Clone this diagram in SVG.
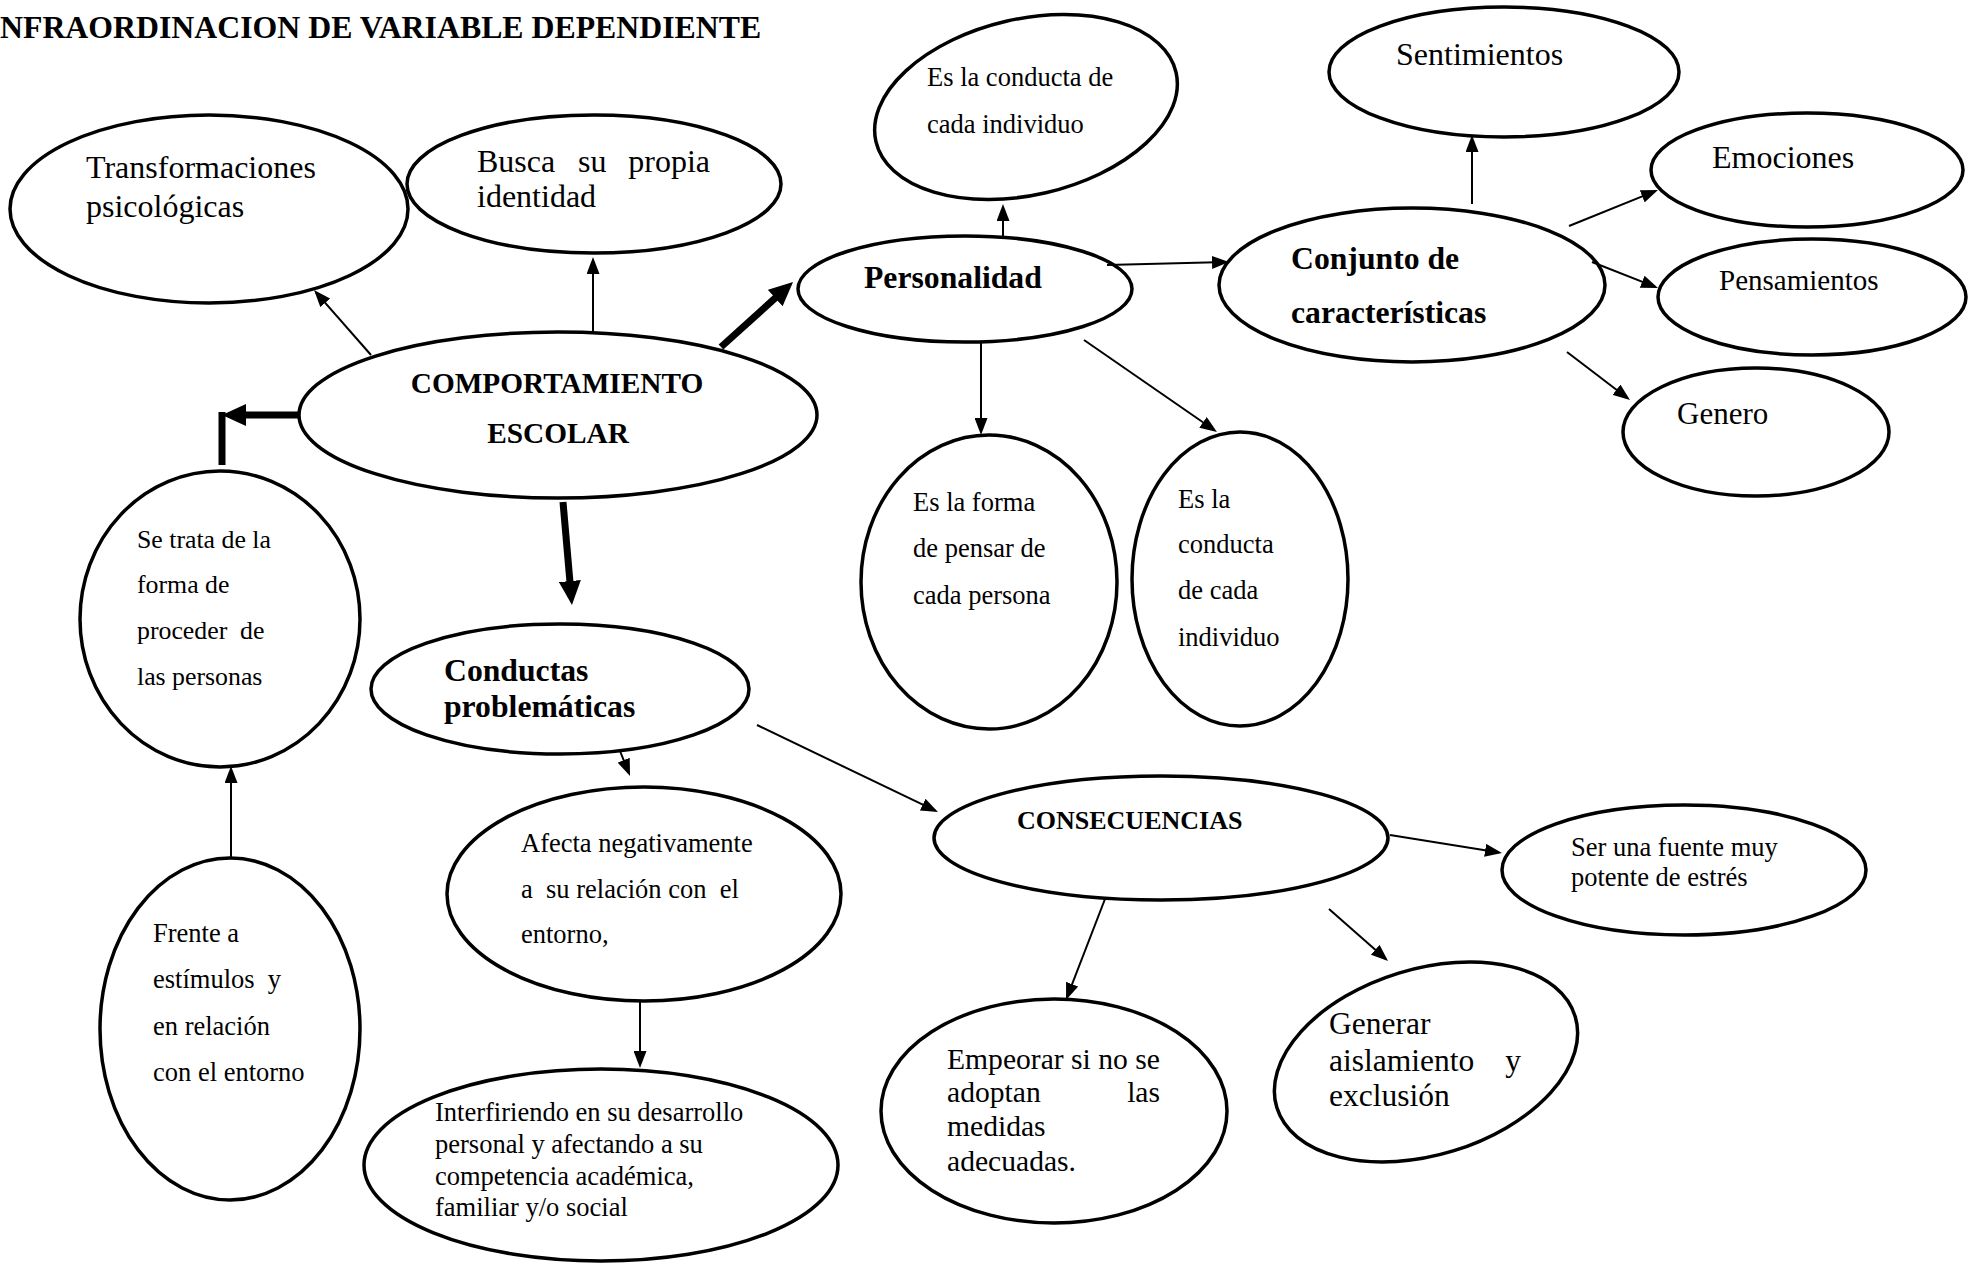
<svg xmlns="http://www.w3.org/2000/svg" width="1972" height="1264" viewBox="0 0 1972 1264">
<style>
.n ellipse{fill:#fff;stroke:#000;stroke-width:3.5}
.c line{stroke:#000;stroke-width:2;fill:none}
.c line.t{stroke-width:7}
text{font-family:"Liberation Serif","Times New Roman",serif;fill:#000}
.b{font-weight:bold}
.s{font-size:26.5px}
.m{font-size:32px}
</style>
<defs>
<marker id="ah" markerUnits="userSpaceOnUse" viewBox="0 0 17 13" refX="14" refY="6.5" markerWidth="17" markerHeight="13" orient="auto"><path d="M0,0 L17,6.5 L0,13 z" fill="#000"/></marker>
<marker id="ahb" markerUnits="userSpaceOnUse" viewBox="0 0 24 22" refX="14" refY="11" markerWidth="24" markerHeight="22" orient="auto"><path d="M0,0 L24,11 L0,22 z" fill="#000"/></marker>
</defs>
<rect width="1972" height="1264" fill="#fff"/>
<text id="title" class="b" x="0" y="38" font-size="31.8">NFRAORDINACION DE VARIABLE DEPENDIENTE</text>

<g id="transformaciones" class="n"><ellipse cx="209" cy="209" rx="199" ry="94"/><text class="m" x="86" y="178">Transformaciones</text><text class="m" x="86" y="217">psicológicas</text></g>
<g id="busca" class="n"><ellipse cx="594" cy="184" rx="187" ry="69"/><text class="m" x="477" y="172">Busca</text><text class="m" x="578" y="172">su</text><text class="m" x="710" y="172" text-anchor="end">propia</text><text class="m" x="477" y="207">identidad</text></g>
<g id="comportamiento" class="n"><ellipse cx="558" cy="415" rx="259" ry="83"/><text class="b" x="557" y="393" font-size="29.3" text-anchor="middle">COMPORTAMIENTO</text><text class="b" x="558" y="443" font-size="29.3" text-anchor="middle">ESCOLAR</text></g>
<g id="personalidad" class="n"><ellipse cx="965" cy="289" rx="167" ry="53"/><text class="b" x="864" y="288" font-size="31.7">Personalidad</text></g>
<g id="conducta-top" class="n"><ellipse cx="1026" cy="107" rx="154" ry="88" transform="rotate(-13 1026 107)"/><text class="s" x="927" y="86">Es la conducta de</text><text class="s" x="927" y="133">cada individuo</text></g>
<g id="conjunto" class="n"><ellipse cx="1412" cy="285" rx="193" ry="77"/><text class="b" x="1291" y="269" font-size="31.7">Conjunto de</text><text class="b" x="1291" y="323" font-size="31.7">características</text></g>
<g id="sentimientos" class="n"><ellipse cx="1504" cy="72" rx="175" ry="65"/><text class="m" x="1396" y="65">Sentimientos</text></g>
<g id="emociones" class="n"><ellipse cx="1807" cy="170" rx="156" ry="57"/><text class="m" x="1712" y="168">Emociones</text></g>
<g id="pensamientos" class="n"><ellipse cx="1812" cy="297" rx="154" ry="58"/><text x="1719" y="290" font-size="29">Pensamientos</text></g>
<g id="genero" class="n"><ellipse cx="1756" cy="432" rx="133" ry="64"/><text x="1677" y="424" font-size="31">Genero</text></g>
<g id="forma" class="n"><ellipse cx="989" cy="582" rx="128" ry="147"/><text class="s" x="913" y="511">Es la forma</text><text class="s" x="913" y="557">de pensar de</text><text class="s" x="913" y="604">cada persona</text></g>
<g id="conducta-right" class="n"><ellipse cx="1240" cy="579" rx="108" ry="147"/><text class="s" x="1178" y="508">Es la</text><text class="s" x="1178" y="553">conducta</text><text class="s" x="1178" y="599">de cada</text><text class="s" x="1178" y="646">individuo</text></g>
<g id="setrata" class="n"><ellipse cx="220" cy="619" rx="140" ry="148"/><text x="137" y="548" font-size="25.8">Se trata de la</text><text x="137" y="593" font-size="25.8">forma de</text><text x="137" y="639" font-size="25.8" xml:space="preserve">proceder  de</text><text x="137" y="685" font-size="25.8">las personas</text></g>
<g id="frente" class="n"><ellipse cx="230" cy="1029" rx="130" ry="171"/><text class="s" x="153" y="942">Frente a</text><text class="s" x="153" y="988" xml:space="preserve">estímulos  y</text><text class="s" x="153" y="1035">en relación</text><text class="s" x="153" y="1081">con el entorno</text></g>
<g id="conductas" class="n"><ellipse cx="560" cy="689" rx="189" ry="65"/><text class="b" x="444" y="681" font-size="31.7">Conductas</text><text class="b" x="444" y="717" font-size="31.7">problemáticas</text></g>
<g id="afecta" class="n"><ellipse cx="644" cy="894" rx="197" ry="107"/><text class="s" x="521" y="852">Afecta negativamente</text><text class="s" x="521" y="898" xml:space="preserve">a  su relación con  el</text><text class="s" x="521" y="943">entorno,</text></g>
<g id="interfiriendo" class="n"><ellipse cx="601" cy="1165" rx="237" ry="96"/><text class="s" x="435" y="1121">Interfiriendo en su desarrollo</text><text class="s" x="435" y="1153">personal y afectando a su</text><text class="s" x="435" y="1185">competencia académica,</text><text class="s" x="435" y="1216">familiar y/o social</text></g>
<g id="consecuencias" class="n"><ellipse cx="1161" cy="838" rx="227" ry="62"/><text class="b" x="1017" y="829" font-size="26">CONSECUENCIAS</text></g>
<g id="estres" class="n"><ellipse cx="1684" cy="870" rx="182" ry="65"/><text class="s" x="1571" y="856">Ser una fuente muy</text><text class="s" x="1571" y="886">potente de estrés</text></g>
<g id="empeorar" class="n"><ellipse cx="1054" cy="1111" rx="173" ry="112"/><text x="947" y="1069" font-size="29.6">Empeorar si no se</text><text x="947" y="1102" font-size="29.6">adoptan</text><text x="1160" y="1102" font-size="29.6" text-anchor="end">las</text><text x="947" y="1136" font-size="29.6">medidas</text><text x="947" y="1171" font-size="29.6">adecuadas.</text></g>
<g id="generar" class="n"><ellipse cx="1426" cy="1062" rx="156" ry="93" transform="rotate(-17 1426 1062)"/><text x="1329" y="1034" font-size="31.5">Generar</text><text x="1329" y="1071" font-size="31.5">aislamiento</text><text x="1521" y="1071" font-size="31.5" text-anchor="end">y</text><text x="1329" y="1106" font-size="31.5">exclusión</text></g>

<g id="connectors" class="c">
<line x1="371" y1="355" x2="316" y2="292.3" marker-end="url(#ah)"/>
<line x1="593" y1="332" x2="593" y2="260" marker-end="url(#ah)"/>
<line class="t" x1="721" y1="347" x2="785.6" y2="288.7" marker-end="url(#ahb)"/>
<line class="t" x1="299" y1="415" x2="232" y2="415" marker-end="url(#ahb)"/>
<line class="t" x1="222" y1="412" x2="222" y2="465"/>
<line class="t" x1="563" y1="502" x2="571.1" y2="595" marker-end="url(#ahb)"/>
<line x1="231" y1="858" x2="231" y2="769" marker-end="url(#ah)"/>
<line x1="620" y1="751" x2="628.9" y2="773.2" marker-end="url(#ah)"/>
<line x1="640" y1="1002" x2="640" y2="1065" marker-end="url(#ah)"/>
<line x1="757" y1="725" x2="935.3" y2="810.7" marker-end="url(#ah)"/>
<line x1="1003" y1="237" x2="1003" y2="207" marker-end="url(#ah)"/>
<line x1="1107" y1="265" x2="1226" y2="262.1" marker-end="url(#ah)"/>
<line x1="981" y1="343" x2="981" y2="432" marker-end="url(#ah)"/>
<line x1="1084" y1="340" x2="1214.5" y2="430.3" marker-end="url(#ah)"/>
<line x1="1472" y1="204" x2="1472" y2="138" marker-end="url(#ah)"/>
<line x1="1569" y1="226" x2="1655.2" y2="191.1" marker-end="url(#ah)"/>
<line x1="1592" y1="262" x2="1655.2" y2="286.9" marker-end="url(#ah)"/>
<line x1="1567" y1="352" x2="1627.6" y2="398.2" marker-end="url(#ah)"/>
<line x1="1390" y1="835" x2="1499" y2="852.5" marker-end="url(#ah)"/>
<line x1="1105" y1="899" x2="1067.1" y2="997.2" marker-end="url(#ah)"/>
<line x1="1329" y1="909" x2="1385.8" y2="959" marker-end="url(#ah)"/>
</g>
</svg>
